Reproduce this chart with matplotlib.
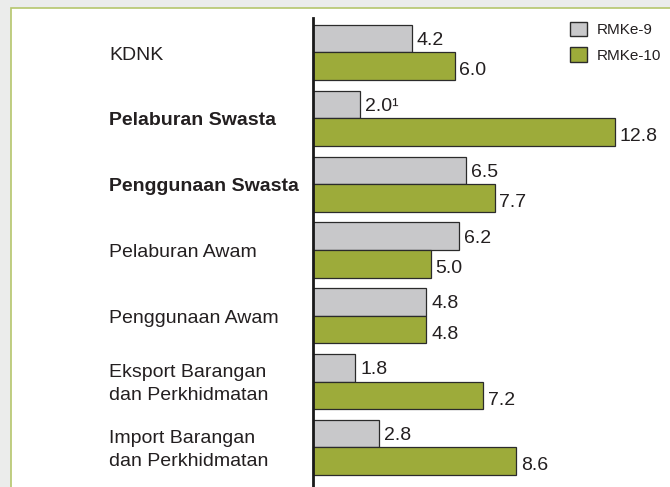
import matplotlib.pyplot as plt
from matplotlib.patches import Patch, Rectangle
from matplotlib.transforms import blended_transform_factory

plt.rcParams['font.family'] = ['Liberation Sans', 'DejaVu Sans']

categories = ['KDNK', 'Pelaburan Swasta', 'Penggunaan Swasta', 'Pelaburan Awam',
              'Penggunaan Awam', 'Eksport Barangan\ndan Perkhidmatan',
              'Import Barangan\ndan Perkhidmatan']
bold_cats = ['Pelaburan Swasta', 'Penggunaan Swasta']
rmke9 = [4.2, 2.0, 6.5, 6.2, 4.8, 1.8, 2.8]
rmke10 = [6.0, 12.8, 7.7, 5.0, 4.8, 7.2, 8.6]
labels9 = ['4.2', '2.0¹', '6.5', '6.2', '4.8', '1.8', '2.8']
labels10 = ['6.0', '12.8', '7.7', '5.0', '4.8', '7.2', '8.6']

grey = '#c8c8ca'
green = '#9dab3a'
edge = '#2b2b2b'
txt = '#231f20'

W, H = 670, 487
fig = plt.figure(figsize=(W / 100, H / 100), dpi=100)
fig.patch.set_facecolor('#ebeceb')
# white panel with olive border on top/left
fig.patches.append(Rectangle((11 / W, -0.1), 1.2, (H - 8) / H + 0.1, transform=fig.transFigure,
                             facecolor='white', edgecolor='#b5c66c', linewidth=1.2, zorder=-5))

ax = fig.add_axes([313 / W, 0, 1 - 313 / W, (H - 18) / H])
ax.patch.set_alpha(0)

y = list(range(len(categories)))
h = 0.42
ax.barh([i - h / 2 for i in y], rmke9, height=h, color=grey, edgecolor=edge, linewidth=0.9)
ax.barh([i + h / 2 for i in y], rmke10, height=h, color=green, edgecolor=edge, linewidth=0.9)

lab_tr = blended_transform_factory(fig.transFigure, ax.transData)
for i in y:
    ax.text(rmke9[i] + 0.2, i - h / 2 + 0.03, labels9[i], ha='left', va='center',
            fontsize=14, color=txt)
    ax.text(rmke10[i] + 0.2, i + h / 2 + 0.07, labels10[i], ha='left', va='center',
            fontsize=14, color=txt)
    ax.text(109 / W, i + 0.04, categories[i], transform=lab_tr, ha='left', va='center',
            fontsize=14, color=txt, clip_on=False,
            fontweight='bold' if categories[i] in bold_cats else 'normal', linespacing=1.45)

ax.set_xlim(0, (W - 313) / 23.6)
ax.set_ylim(6.6, -0.524)
for s in ['top', 'right', 'bottom']:
    ax.spines[s].set_visible(False)
ax.spines['left'].set_linewidth(2)
ax.spines['left'].set_color('#1a1a1a')
ax.set_xticks([])
ax.set_yticks([])

handles = [Patch(facecolor=grey, edgecolor=edge, label='RMKe-9'),
           Patch(facecolor=green, edgecolor=edge, label='RMKe-10')]
fig.legend(handles=handles, loc='upper left', bbox_to_anchor=(556 / W, 1 - 8 / H),
           frameon=False, fontsize=11, handlelength=1.1, handleheight=1.1,
           handletextpad=0.7, labelspacing=0.65, labelcolor=txt)

fig.savefig('out.png', dpi=100, facecolor=fig.get_facecolor())
